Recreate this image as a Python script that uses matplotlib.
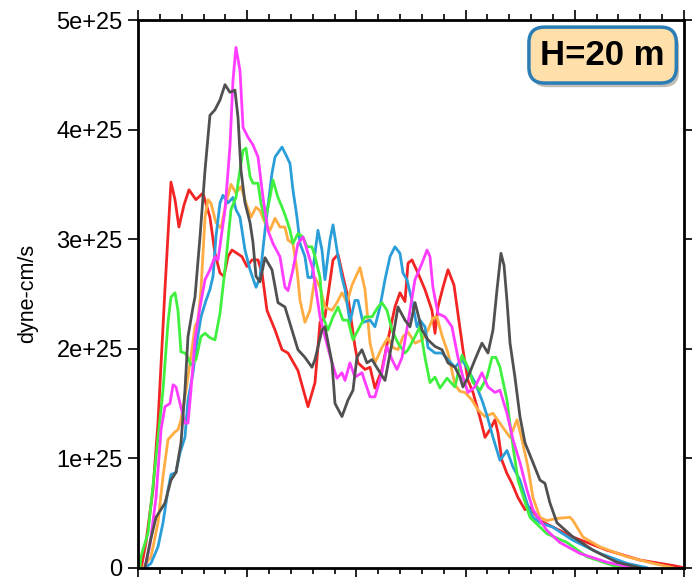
"""Moment-rate functions for six rupture realisations, H = 20 m case."""

import matplotlib

matplotlib.use("Agg")
import matplotlib.pyplot as plt
import matplotlib.patheffects as pe
from matplotlib.ticker import FixedLocator, MultipleLocator, FuncFormatter

plt.rcParams["font.family"] = ["Liberation Sans", "DejaVu Sans"]

# Moment rate in units of 1e25 dyne-cm/s, time in s (axis labels are cropped).
RED_T = [0.3, 0.73, 1.37, 1.83, 2.47, 3.02, 3.39, 3.75, 4.21, 4.67, 5.31, 5.95, 6.59, 7.05,
         7.51, 7.88, 8.24, 8.61, 9.07, 9.52, 9.98, 10.44, 10.99, 11.36, 11.81, 12.55, 13.19,
         13.74, 14.65, 15.57, 16.21, 16.67, 17.12, 17.86, 18.32, 18.77, 19.23, 19.87, 20.15,
         20.79, 21.25, 21.70, 22.34, 22.89, 23.53, 23.99, 24.45, 24.73, 25.09, 25.64, 26.28,
         26.92, 27.20, 27.47, 27.93, 28.39, 28.94, 29.30, 29.76, 30.22, 30.68, 31.32, 31.78,
         32.23, 32.69, 32.97, 33.33, 33.79, 34.25, 34.80, 35.44, 35.90, 36.81, 39.84, 42.95,
         45.97, 48.99, 50.0]
RED_M = [0.0, 0.23, 0.71, 1.32, 2.54, 3.52, 3.36, 3.11, 3.31, 3.45, 3.36, 3.42, 3.20, 2.87,
         2.69, 2.66, 2.84, 2.90, 2.87, 2.84, 2.75, 2.81, 2.81, 2.69, 2.35, 2.17, 1.99, 1.96,
         1.80, 1.47, 1.69, 2.24, 2.29, 2.81, 2.86, 2.66, 2.47, 2.02, 1.87, 1.81, 1.83, 1.64,
         1.81, 2.08, 2.38, 2.51, 2.43, 2.78, 2.81, 2.69, 2.54, 2.35, 2.14, 2.38, 2.56, 2.72,
         2.58, 2.32, 1.99, 1.71, 1.60, 1.37, 1.19, 1.26, 1.35, 1.23, 0.98, 0.86, 0.77, 0.64,
         0.53, 0.55, 0.43, 0.28, 0.16, 0.07, 0.02, 0.0]

GRAY_T = [0.64, 1.10, 1.65, 2.47, 3.02, 3.48, 3.94, 4.30, 4.58, 5.04, 5.22, 5.68, 6.14, 6.59,
          7.05, 7.51, 7.97, 8.42, 8.88, 9.16, 9.43, 9.80, 10.26, 10.53, 10.81, 11.17, 11.63,
          12.27, 12.82, 13.46, 14.10, 14.65, 15.29, 15.93, 16.21, 16.85, 17.12, 17.77, 18.04,
          18.68, 19.23, 19.69, 20.05, 20.51, 20.97, 21.43, 21.98, 22.62, 23.26, 23.81, 24.45,
          24.91, 25.37, 26.01, 26.56, 27.20, 27.84, 28.39, 29.03, 29.49, 29.76, 30.22, 30.86,
          31.50, 32.05, 32.51, 32.88, 33.24, 33.52, 33.79, 34.07, 34.52, 34.98, 35.44, 36.17,
          36.81, 37.27, 37.73, 38.37, 39.84, 41.67, 43.86, 45.97]
GRAY_M = [0.0, 0.23, 0.46, 0.59, 0.80, 0.87, 1.14, 1.62, 2.11, 2.38, 2.47, 3.02, 3.63, 4.13,
          4.18, 4.27, 4.41, 4.34, 4.36, 4.11, 3.63, 3.33, 3.15, 2.97, 2.66, 2.61, 2.83, 2.72,
          2.42, 2.38, 2.17, 1.99, 1.92, 1.83, 1.90, 2.17, 2.20, 1.87, 1.50, 1.38, 1.53, 1.62,
          1.92, 1.99, 1.87, 1.90, 1.81, 1.71, 2.05, 2.38, 2.26, 2.20, 2.42, 2.17, 2.08, 2.02,
          1.99, 1.87, 1.83, 1.74, 1.65, 1.74, 1.90, 2.05, 1.96, 2.17, 2.54, 2.87, 2.76, 2.44,
          2.05, 1.74, 1.38, 1.14, 0.96, 0.80, 0.77, 0.59, 0.41, 0.28, 0.16, 0.05, 0.0]

MAGENTA_T = [0.64, 1.10, 1.65, 2.11, 2.47, 2.93, 3.21, 3.48, 3.85, 4.30, 4.58, 4.85, 5.22,
             5.68, 6.14, 6.59, 7.05, 7.33, 7.97, 8.42, 8.70, 8.97, 9.34, 9.62, 10.07, 10.53,
             10.99, 11.45, 11.90, 12.36, 13.00, 13.46, 13.74, 14.19, 14.65, 15.11, 15.57,
             16.03, 16.67, 17.12, 17.77, 18.22, 18.68, 18.96, 19.41, 19.87, 20.51, 21.25,
             21.70, 22.34, 22.80, 23.26, 23.72, 24.18, 24.73, 25.37, 26.01, 26.47, 26.74,
             27.01, 27.47, 28.11, 28.75, 29.30, 29.76, 30.22, 30.86, 31.50, 32.05, 32.69,
             33.15, 33.79, 34.34, 34.98, 35.62, 36.17, 37.45, 38.64, 40.48, 42.95, 45.33]
MAGENTA_M = [0.0, 0.21, 0.64, 1.26, 1.47, 1.50, 1.67, 1.65, 1.50, 1.32, 1.32, 1.62, 2.08,
             2.38, 2.63, 2.72, 2.84, 2.81, 3.27, 3.84, 4.45, 4.75, 4.54, 4.02, 3.93, 3.86,
             3.75, 3.38, 3.08, 2.96, 2.84, 2.56, 2.53, 2.72, 2.96, 3.02, 2.87, 2.72, 2.29,
             2.11, 1.87, 1.73, 1.78, 1.71, 1.87, 1.74, 1.78, 1.56, 1.56, 1.78, 2.02, 1.90,
             1.81, 1.92, 2.24, 2.63, 2.78, 2.90, 2.84, 2.56, 2.32, 2.29, 2.20, 1.92, 1.74,
             1.60, 1.65, 1.78, 1.65, 1.60, 1.62, 1.41, 1.17, 0.96, 0.71, 0.53, 0.34, 0.23,
             0.13, 0.05, 0.0]

BLUE_T = [0.64, 1.19, 1.83, 2.29, 2.75, 3.02, 3.48, 3.85, 4.30, 4.58, 5.04, 5.31, 5.77, 6.23,
          6.59, 6.87, 7.14, 7.51, 7.78, 8.24, 8.70, 8.97, 9.34, 9.80, 10.26, 10.81, 11.17,
          11.63, 12.27, 12.55, 13.19, 13.64, 13.92, 14.19, 14.56, 14.84, 15.29, 15.57, 15.93,
          16.21, 16.48, 16.85, 17.12, 17.58, 17.86, 18.32, 18.68, 18.96, 19.41, 19.87, 20.15,
          20.60, 21.25, 21.70, 22.16, 22.62, 23.08, 23.53, 23.99, 24.27, 24.63, 25.09, 25.55,
          25.82, 26.28, 26.56, 27.20, 27.84, 28.39, 29.03, 29.67, 30.22, 30.86, 31.50, 31.96,
          32.51, 33.15, 33.79, 34.34, 34.98, 35.62, 36.17, 36.81, 38.00, 39.84, 42.31, 44.78,
          46.61]
BLUE_M = [0.0, 0.04, 0.19, 0.41, 0.71, 0.85, 0.87, 1.05, 1.19, 1.53, 1.78, 2.01, 2.29, 2.44,
          2.54, 2.66, 3.02, 3.33, 3.40, 3.33, 3.38, 3.27, 3.20, 2.90, 2.72, 2.56, 2.65, 3.08,
          3.60, 3.75, 3.84, 3.75, 3.69, 3.45, 3.20, 2.96, 2.84, 2.65, 2.65, 2.87, 3.08, 2.90,
          2.63, 2.99, 3.13, 2.84, 2.65, 2.54, 2.24, 2.44, 2.44, 2.24, 2.26, 2.20, 2.38, 2.63,
          2.84, 2.93, 2.87, 2.69, 2.63, 2.44, 2.20, 2.26, 2.20, 2.01, 1.96, 1.96, 1.90, 1.83,
          1.90, 1.81, 1.69, 1.53, 1.39, 1.19, 0.98, 1.07, 0.92, 0.80, 0.59, 0.46, 0.41, 0.37,
          0.25, 0.13, 0.04, 0.0]

GREEN_T = [0.18, 0.27, 0.92, 1.65, 2.29, 2.75, 3.02, 3.39, 3.66, 3.94, 4.30, 4.58, 4.85, 5.31,
           5.77, 6.14, 6.59, 7.05, 7.51, 8.06, 8.52, 8.97, 9.34, 9.62, 9.89, 10.26, 10.53,
           10.99, 11.26, 11.63, 12.09, 12.36, 12.82, 13.28, 13.64, 13.92, 14.19, 14.65, 15.11,
           15.48, 15.93, 16.21, 16.67, 16.94, 17.40, 17.86, 18.32, 18.77, 19.23, 19.69, 20.15,
           20.79, 21.43, 21.98, 22.34, 22.80, 23.26, 23.81, 24.45, 24.73, 25.37, 25.82, 26.28,
           26.74, 27.20, 27.66, 28.30, 29.03, 29.67, 30.22, 30.68, 31.32, 31.96, 32.42, 32.78,
           33.15, 33.79, 34.25, 34.80, 35.90, 37.45, 39.29, 41.12, 43.50, 44.6]
GREEN_M = [0.0, 0.10, 0.32, 1.01, 1.62, 2.24, 2.47, 2.51, 2.35, 1.97, 1.96, 1.92, 1.85, 1.90,
           2.11, 2.14, 2.10, 2.08, 2.32, 2.81, 3.27, 3.38, 3.63, 3.81, 3.83, 3.57, 3.51, 3.51,
           3.33, 3.17, 3.38, 3.54, 3.38, 3.27, 3.17, 3.08, 2.96, 3.05, 3.02, 2.93, 2.93, 2.84,
           2.65, 2.29, 2.17, 2.29, 2.38, 2.26, 2.26, 2.08, 2.17, 2.29, 2.29, 2.38, 2.42, 2.35,
           2.17, 2.05, 1.96, 1.99, 2.11, 2.20, 1.92, 1.69, 1.74, 1.64, 1.73, 1.65, 1.94, 1.83,
           1.69, 1.62, 1.74, 1.92, 1.92, 1.83, 1.53, 1.17, 0.80, 0.46, 0.31, 0.23, 0.10, 0.02,
           0.0]

ORANGE_T = [0.46, 1.19, 1.83, 2.29, 2.75, 3.39, 3.66, 3.94, 4.40, 4.85, 5.22, 5.49, 5.77,
            6.14, 6.41, 6.68, 7.14, 7.60, 8.06, 8.52, 8.97, 9.43, 9.89, 10.35, 10.81, 11.17,
            11.63, 12.09, 12.55, 13.00, 13.46, 13.74, 14.19, 14.56, 14.84, 15.29, 15.75, 16.21,
            16.67, 17.12, 17.77, 18.22, 18.68, 19.14, 19.60, 20.33, 20.79, 21.25, 21.70, 22.34,
            22.89, 23.35, 23.81, 24.27, 24.73, 25.37, 26.01, 26.56, 27.01, 27.38, 27.84, 28.39,
            29.03, 29.49, 29.95, 30.59, 31.14, 31.78, 32.51, 33.42, 34.07, 34.71, 35.16, 35.71,
            36.17, 36.81, 37.45, 38.37, 39.56, 39.84, 40.75, 42.31, 44.78, 47.16, 48.99]
ORANGE_M = [0.0, 0.10, 0.41, 0.83, 1.17, 1.24, 1.26, 1.35, 1.62, 1.93, 2.20, 2.26, 2.54,
            3.20, 3.36, 3.33, 3.15, 3.10, 3.33, 3.50, 3.42, 3.48, 3.33, 3.20, 3.29, 3.26,
            3.15, 3.08, 3.19, 3.11, 3.11, 2.99, 2.96, 2.72, 2.44, 2.24, 2.35, 2.65, 2.56,
            2.38, 2.35, 2.42, 2.51, 2.42, 2.58, 2.74, 2.54, 2.05, 1.87, 2.01, 2.10, 2.01,
            1.99, 2.11, 2.15, 2.05, 2.08, 2.17, 2.28, 2.29, 2.12, 1.96, 1.67, 1.61, 1.60,
            1.53, 1.44, 1.38, 1.41, 1.28, 1.19, 1.35, 1.17, 0.92, 0.64, 0.46, 0.43, 0.45,
            0.46, 0.43, 0.28, 0.19, 0.10, 0.04, 0.0]

Y_TICKS = [0, 1, 2, 3, 4, 5]
Y_TICK_LABELS = ["0", "1e+25", "2e+25", "3e+25", "4e+25", "5e+25"]
CASE_LABEL = "H=20 m"

# Draw order: later series on top.
SERIES = [
    (RED_T, RED_M, "#f22424"),
    (ORANGE_T, ORANGE_M, "#ffac42"),
    (BLUE_T, BLUE_M, "#2a9ed8"),
    (GREEN_T, GREEN_M, "#3ff03f"),
    (MAGENTA_T, MAGENTA_M, "#ff3cff"),
    (GRAY_T, GRAY_M, "#505050"),
]


def main() -> None:
    fig = plt.figure(figsize=(6.92, 5.77), dpi=100)
    ax = fig.add_axes([0.1994, 0.0161, 0.7890, 0.9492])

    for t, m, color in SERIES:
        ax.plot(t, m, color=color, linewidth=2.0,
                solid_joinstyle="round", solid_capstyle="round")

    ax.set_xlim(0, 50)
    ax.set_ylim(0, 5)
    ax.xaxis.set_major_locator(MultipleLocator(10))
    ax.xaxis.set_minor_locator(MultipleLocator(2))
    ax.yaxis.set_major_locator(FixedLocator(Y_TICKS))
    ax.yaxis.set_major_formatter(FuncFormatter(lambda v, i: Y_TICK_LABELS[int(round(v))]))
    ax.tick_params(axis="both", which="both", direction="out",
                   top=True, bottom=True, left=True, right=True, width=1.2)
    ax.tick_params(axis="both", which="major", length=7)
    ax.tick_params(axis="both", which="minor", length=4)
    ax.tick_params(axis="x", labelbottom=False)
    ax.tick_params(axis="y", labelsize=17, pad=4)
    for spine in ax.spines.values():
        spine.set_linewidth(2)

    ax.set_ylabel("dyne-cm/s", fontsize=15.5, labelpad=13)

    txt = ax.text(0.851, 0.936, CASE_LABEL, transform=ax.transAxes,
                  ha="center", va="center", fontsize=25, fontweight="bold",
                  bbox=dict(boxstyle="round,pad=0.33,rounding_size=0.45",
                            facecolor="#ffe0aa", edgecolor="#2b7db5", linewidth=2.5))
    txt.get_bbox_patch().set_path_effects(
        [pe.SimplePatchShadow(offset=(2, -3), alpha=0.35), pe.Normal()])

    fig.savefig("out.png", dpi=100)
    plt.close(fig)


if __name__ == "__main__":
    main()
